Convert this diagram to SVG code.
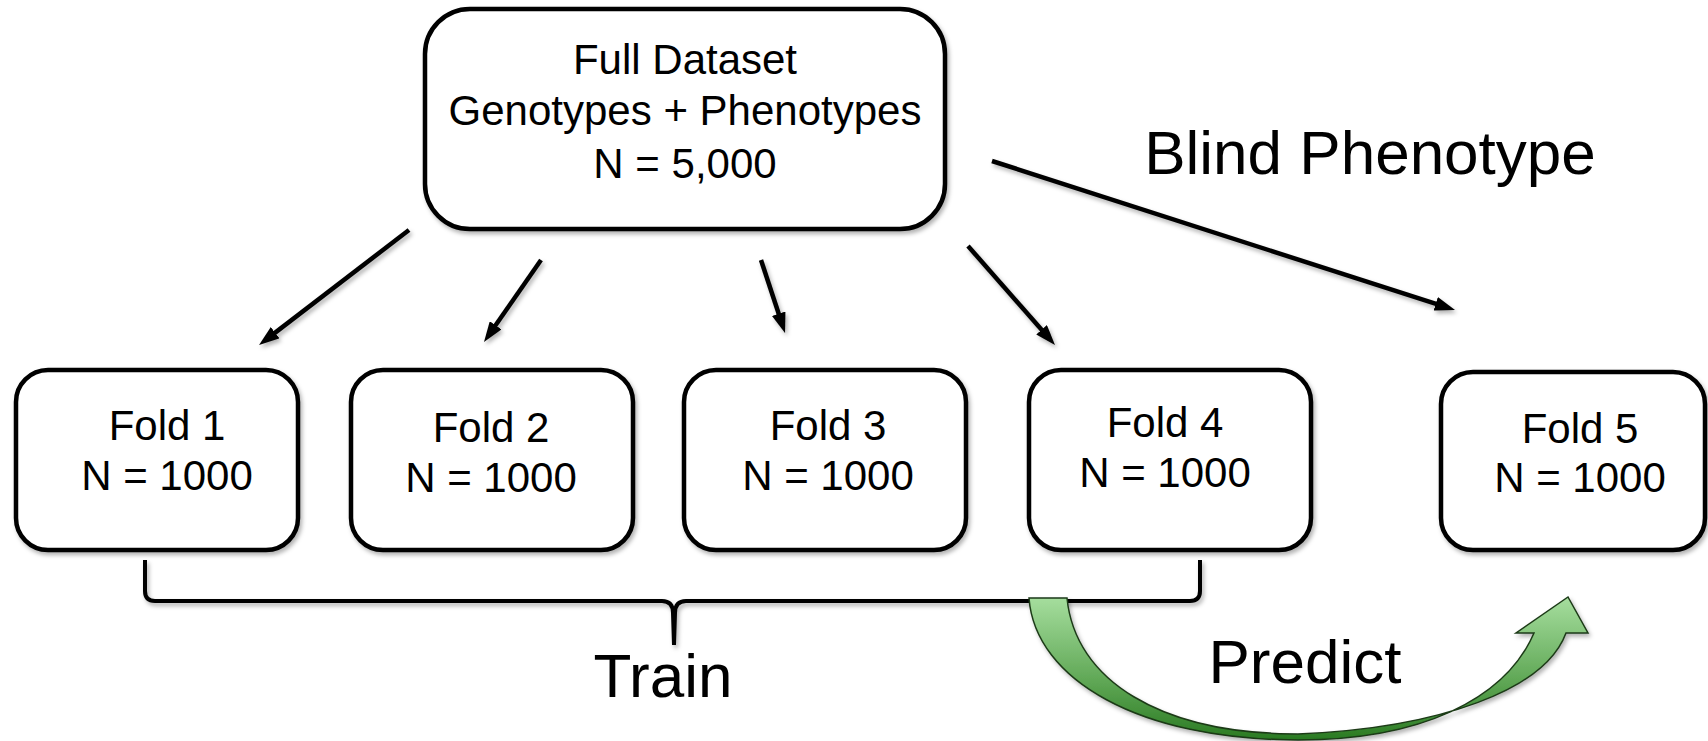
<svg xmlns="http://www.w3.org/2000/svg" width="1708" height="741" viewBox="0 0 1708 741">
<style>
.box{fill:#fff;stroke:#000;stroke-width:4.5}
.t{font-family:"Liberation Sans",Arial,sans-serif;font-size:42px;fill:#000;text-anchor:middle}
.big{font-family:"Liberation Sans",Arial,sans-serif;font-size:62px;fill:#000;text-anchor:middle}
.conn{stroke:#000;stroke-width:4.5;fill:none;marker-end:url(#ah)}
</style>
<defs>
<filter id="sh" x="-10%" y="-10%" width="130%" height="130%">
<feDropShadow dx="2" dy="3" stdDeviation="2" flood-color="#000" flood-opacity="0.3"/>
</filter>
<marker id="ah" viewBox="0 0 10 7" refX="3" refY="3.5" markerWidth="4.5" markerHeight="3.15" orient="auto" markerUnits="strokeWidth">
<path d="M0,0 L10,3.5 L0,7 z" fill="#000"/>
</marker>
<linearGradient id="gg" gradientUnits="userSpaceOnUse" x1="0" y1="597" x2="0" y2="740">
<stop offset="0" stop-color="#a6de9e"/>
<stop offset="0.6" stop-color="#5ea654"/>
<stop offset="1" stop-color="#2a7a22"/>
</linearGradient>
</defs>
<rect width="1708" height="741" fill="#fff"/>

<g id="connectors" filter="url(#sh)">
<line class="conn" x1="409" y1="230" x2="270.3" y2="336.4"/>
<line class="conn" x1="541" y1="260" x2="492.1" y2="330.3"/>
<line class="conn" x1="761" y1="260" x2="780.6" y2="319.5"/>
<line class="conn" x1="968" y1="246" x2="1045.6" y2="334.3"/>
<line class="conn" x1="992" y1="161" x2="1441.5" y2="305.7"/>
<path d="M145,560 V591 Q145,601 155,601 H662 Q673,601 673,613 L674,645 L675,613 Q675,601 686,601 H1190 Q1200,601 1200,591 V560" fill="none" stroke="#000" stroke-width="4"/>
</g>

<g id="full-dataset">
<rect class="box" x="425" y="9" width="520" height="220" rx="45" filter="url(#sh)"/>
<text class="t" x="685" y="74">Full Dataset</text>
<text class="t" x="685" y="125">Genotypes + Phenotypes</text>
<text class="t" x="685" y="178">N = 5,000</text>
</g>

<g id="fold1">
<rect class="box" x="16" y="370" width="282" height="180" rx="32" filter="url(#sh)"/>
<text class="t" x="167" y="440">Fold 1</text>
<text class="t" x="167" y="490">N = 1000</text>
</g>
<g id="fold2">
<rect class="box" x="351" y="370" width="282" height="180" rx="32" filter="url(#sh)"/>
<text class="t" x="491" y="442">Fold 2</text>
<text class="t" x="491" y="492">N = 1000</text>
</g>
<g id="fold3">
<rect class="box" x="684" y="370" width="282" height="180" rx="32" filter="url(#sh)"/>
<text class="t" x="828" y="440">Fold 3</text>
<text class="t" x="828" y="490">N = 1000</text>
</g>
<g id="fold4">
<rect class="box" x="1029" y="370" width="282" height="180" rx="32" filter="url(#sh)"/>
<text class="t" x="1165" y="437">Fold 4</text>
<text class="t" x="1165" y="487">N = 1000</text>
</g>
<g id="fold5">
<rect class="box" x="1441" y="372" width="264" height="178" rx="32" filter="url(#sh)"/>
<text class="t" x="1580" y="443">Fold 5</text>
<text class="t" x="1580" y="492">N = 1000</text>
</g>

<g id="blind-label">
<text class="big" x="1370" y="174">Blind Phenotype</text>
</g>
<g id="train-label">
<text class="big" x="663" y="697">Train</text>
</g>

<g id="predict-arrow">
<path d="M1029,598 C1035,680 1140,740 1298,740 C1420,740 1505,700 1534,633 L1516,633 L1568,597 L1588,633 L1566,633 C1545,690 1440,728 1298,734 C1160,734 1075,680 1067,598 Z" fill="url(#gg)" stroke="#1c3a18" stroke-width="1.5" filter="url(#sh)"/>
<text class="big" x="1305" y="683">Predict</text>
</g>
</svg>
